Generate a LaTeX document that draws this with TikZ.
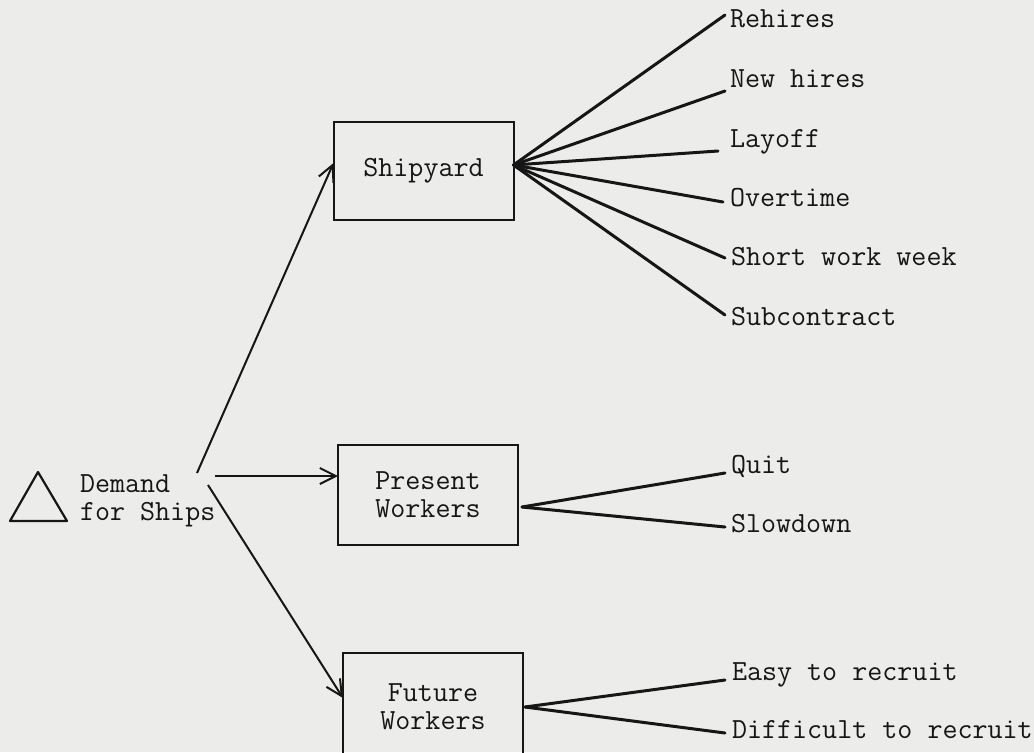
\documentclass[tikz,border=0pt]{standalone}
\usepackage{fontspec}
\usepackage{tikz}
\usetikzlibrary{arrows.meta}
\definecolor{paper}{RGB}{236,236,234}
\definecolor{ink}{RGB}{22,22,22}

\begin{document}
\begin{tikzpicture}[x=0.5pt,y=-0.5pt,
  every node/.style={inner sep=0pt,outer sep=0pt,text=ink,
    font=\fontsize{14.6}{14}\selectfont\ttfamily},
  box/.style={draw=ink,line width=1pt,align=center,minimum width=90pt},
  lbl/.style={anchor=base west},
  arr/.style={draw=ink,line width=1pt,-{Straight Barb[length=8pt,width=8pt]}},
  fan/.style={draw=ink,line width=1.5pt,line cap=round}]
\useasboundingbox (0,0) rectangle (1034,752);
\fill[paper] (0,0) rectangle (1034,752);
\clip (0,0) rectangle (1034,752);
% demand
\draw[ink,line width=1.1pt,line join=round] (38,472) -- (10,521) -- (67,521) -- cycle;
\node[align=left,anchor=west] (dem) at (80,501) {Demand\\for Ships};
\coordinate (d1) at (197,473);
\coordinate (d2) at (215,476);
\coordinate (d3) at (208,485);
% boxes
\node[box,minimum height=49pt] (ship) at (423.5,171) {Shipyard};
\node[box,minimum height=50pt] (pres) at (428,495) {Present\\Workers};
\node[box,minimum height=54pt] (fut) at (433,707) {Future\\Workers};
\draw[arr] (d1) -- ([yshift=4pt]ship.west);
\draw[arr] (d2) -- ([yshift=9.5pt]pres.west);
\draw[arr] (d3) -- ([yshift=4.5pt]fut.west);
% shipyard choices
\node[lbl] (rh) at (730,27) {Rehires};
\node[lbl] (nh) at (730,87) {New hires};
\node[lbl] (lo) at (730,147) {Layoff};
\node[lbl] (ot) at (730,206) {Overtime};
\node[lbl] (sw) at (731,265) {Short work week};
\node[lbl] (sc) at (731,325) {Subcontract};
\draw[fan] ([yshift=3pt]ship.east) -- ([xshift=-2.5pt,yshift=6pt]rh.base west);
\draw[fan] ([yshift=3pt]ship.east) -- ([xshift=-2.5pt,yshift=-2pt]nh.base west);
\draw[fan] ([yshift=3pt]ship.east) -- ([xshift=-6pt,yshift=-2pt]lo.base west);
\draw[fan] ([yshift=3pt]ship.east) -- ([xshift=-3.5pt,yshift=2pt]ot.base west);
\draw[fan] ([yshift=3pt]ship.east) -- ([xshift=-3pt,yshift=3.5pt]sw.base west);
\draw[fan] ([yshift=3pt]ship.east) -- ([xshift=-3pt,yshift=5pt]sc.base west);
% present workers
\node[lbl] (qu) at (731,473) {Quit};
\node[lbl] (sd) at (731,532) {Slowdown};
\draw[fan] ([xshift=2pt,yshift=-6pt]pres.east) -- ([xshift=-3pt]qu.base west);
\draw[fan] ([xshift=2pt,yshift=-6pt]pres.east) -- ([xshift=-3pt,yshift=2.5pt]sd.base west);
% future workers
\node[lbl] (ez) at (732,680) {Easy to recruit};
\node[lbl] (df) at (732,738) {Difficult to recruit};
\draw[fan] ([xshift=1pt]fut.east) -- ([xshift=-3.5pt]ez.base west);
\draw[fan] ([xshift=1pt]fut.east) -- ([xshift=-3.5pt,yshift=2.5pt]df.base west);
\end{tikzpicture}
\end{document}
